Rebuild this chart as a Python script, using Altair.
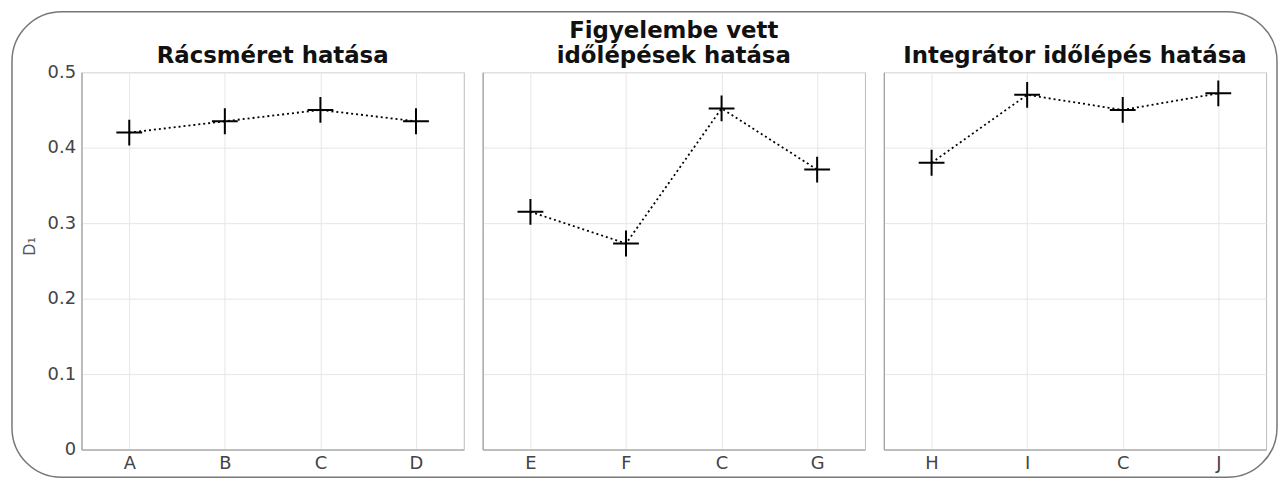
import altair as alt
import pandas as pd

# ---- data ----
panel_titles = [["Rácsméret hatása"], ["Figyelembe vett", "időlépések hatása"], ["Integrátor időlépés hatása"]]
cats1 = ["A", "B", "C", "D"]
vals1 = [0.42, 0.435, 0.45, 0.435]
cats2 = ["E", "F", "C", "G"]
vals2 = [0.315, 0.273, 0.452, 0.371]
cats3 = ["H", "I", "C", "J"]
vals3 = [0.38, 0.47, 0.45, 0.472]
y_ticks = [0, 0.1, 0.2, 0.3, 0.4, 0.5]
y_title = "D₁"

FONT = "DejaVu Sans"
PLUS = "M-1,0L1,0M0,-1L0,1"


def panel(cats, vals, title, first, title_offset):
    df = pd.DataFrame({"cat": cats, "val": vals, "idx": list(range(len(cats)))})
    x = alt.X(
        "cat:N",
        sort=cats,
        scale=alt.Scale(type="point", padding=0.5),
        axis=alt.Axis(title=None, labelAngle=0, grid=True, ticks=False, labelPadding=5),
    )
    if first:
        yaxis = alt.Axis(values=y_ticks, format="~g", title=y_title, ticks=False,
                         labelPadding=6, titleFontSize=16, titleFontWeight="normal",
                         titleColor="#555", titleAngle=270, titleAlign="center",
                         titleBaseline="alphabetic", titleX=-47, titleY=175)
    else:
        yaxis = alt.Axis(values=y_ticks, title=None, labels=False, ticks=False)
    y = alt.Y("val:Q", scale=alt.Scale(domain=[0, 0.5], nice=False, zero=True), axis=yaxis)

    base = alt.Chart(df)
    line = base.mark_line(color="black", strokeDash=[2, 3], strokeWidth=1.8).encode(
        x=x, y=y, order="idx:Q")
    pts = base.mark_point(shape=PLUS, filled=False, color="black", strokeWidth=2,
                          size=676, opacity=1).encode(x=x, y=y)
    return alt.layer(line, pts).properties(
        width=385, height=380,
        title=alt.TitleParams(text=title, fontSize=23, font=FONT, fontWeight="bold",
                              color="#111", anchor="middle", offset=title_offset, lineHeight=25),
    )


# decorative rounded frame around the whole figure
frame = alt.Chart(pd.DataFrame({"k": [0]})).mark_rect(
    fillOpacity=0, stroke="#777", strokeWidth=1.5, cornerRadius=50, clip=False
).encode(
    x=alt.value(-70), x2=alt.value(1204), y=alt.value(0), y2=alt.value(469)
).properties(width=1, height=1, view=alt.ViewBackground(stroke="transparent"))

panels = alt.hconcat(
    panel(cats1, vals1, panel_titles[0], True, -5),
    panel(cats2, vals2, panel_titles[1], False, 4),
    panel(cats3, vals3, panel_titles[2], False, 4),
    spacing=19,
    bounds="flush",
)

chart = alt.vconcat(frame, panels, spacing=60, bounds="flush").properties(
    padding={"left": 2, "top": 0, "right": 0, "bottom": 0}
).configure_view(
    stroke="#bbbbbb"
).configure_axis(
    labelFont=FONT, labelFontSize=18, labelColor="#444", titleFont=FONT,
    gridColor="#e6e6e6", domainColor="#999999",
)

chart.save("out.html", embed_options={"renderer": "svg", "actions": False})
